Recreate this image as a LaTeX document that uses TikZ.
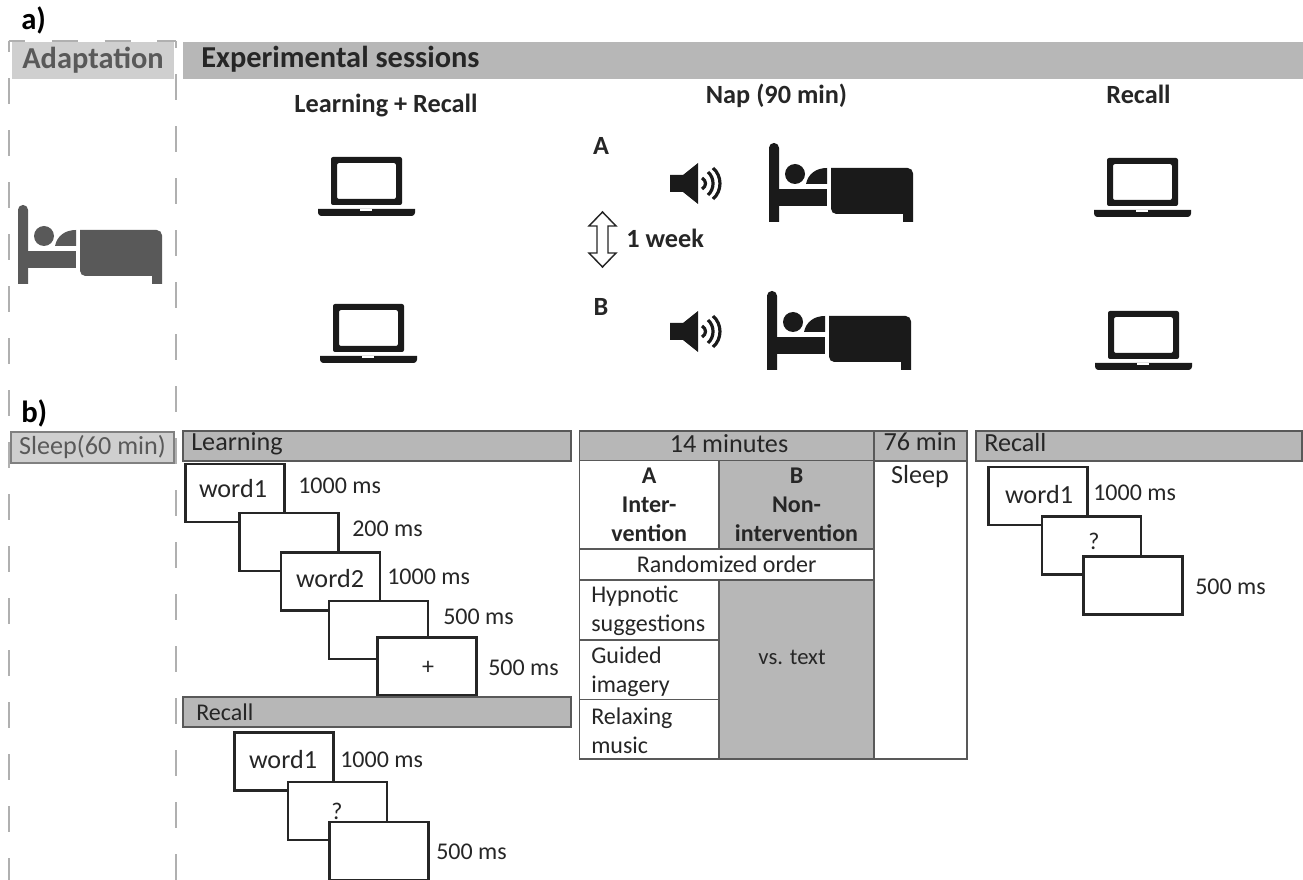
\documentclass[tikz,border=0pt]{standalone}
\usepackage{fontspec}
\setmainfont[Ligatures={Common,Rare}]{Carlito}
\usepackage{tikz}
\usetikzlibrary{arrows.meta,shapes,positioning,calc,fit}
\definecolor{barfill}{HTML}{B7B7B7}
\definecolor{barline}{HTML}{595959}
\definecolor{adaptfill}{HTML}{CFCFCF}
\definecolor{adaptink}{HTML}{595959}
\definecolor{dashgray}{HTML}{B0B0B0}
\definecolor{iconink}{HTML}{1A1A1A}
\definecolor{textink}{HTML}{262626}
\newcommand{\fsbody}{\fontsize{18}{21.75}\selectfont}
\newcommand{\fsbar}{\fontsize{19.6}{21.75}\selectfont}
\newcommand{\fshead}{\fontsize{22.8}{26}\selectfont\bfseries}
\newcommand{\fssub}{\fontsize{19.7}{24}\selectfont\bfseries}

\begin{document}
\begin{tikzpicture}[
        x=0.75pt, y=-0.75pt,
        txt/.style={inner sep=0pt, text=textink, font=\fsbody},
        txtl/.style={txt, anchor=west, align=left},
        bartxt/.style={txt, font=\fsbar},
        subhead/.style={inner sep=0pt, text=textink, font=\fssub},
        panel/.style={inner sep=0pt, text=black, font=\fontsize{23}{26}\selectfont\bfseries},
        bar/.style={rectangle, draw=barline, line width=0.9pt, fill=barfill, minimum height=22.5pt, inner sep=0pt},
        cell/.style={rectangle, draw=barline, line width=0.9pt, fill=white, inner sep=0pt, align=center, text=textink, font=\fsbody},
        leftcell/.style={cell, minimum width=104.6pt, minimum height=44.6pt},
        screen/.style={rectangle, draw=textink, line width=1.6pt, fill=white, minimum width=74.25pt, minimum height=43.5pt, inner sep=0pt},
        pics/bed/.style={code={
            \fill[#1] (0,79) [rounded corners=3.6pt] -- (0,0) -- (10,0) [sharp corners] -- (10,79) -- cycle;
            \fill[#1] (10,46) rectangle (58,63);
            \fill[#1] (26,31) circle (7.5pt);
            \fill[#1] (37,41) .. controls (39,31) and (47,25) .. (58,25) -- (58,41) -- cycle;
            \fill[#1] (62,25) [rounded corners=4pt] -- (144,25) [sharp corners] -- (144,79) -- (134,79) -- (134,71) [rounded corners=4pt] -- (62,71) [sharp corners] -- cycle;
        }},
        pics/laptop/.style={code={
            \fill[iconink, even odd rule, rounded corners=1.5pt] (13,0) rectangle (84,48) (19,6) rectangle (78,42);
            \fill[iconink] (0,52) -- (97,52) [rounded corners=2.5pt] -- (97,59) -- (0,59) [sharp corners] -- cycle;
            \fill[white] (42,52) rectangle (54,54);
        }},
        pics/speaker/.style={code={
            \fill[iconink] (0,12) -- (13,12) -- (28,0) -- (28,41) -- (13,29) -- (0,29) -- cycle;
            \draw[iconink, line width=2.4pt] (32,15) .. controls (36.7,18) and (36.7,23) .. (32,26);
            \draw[iconink, line width=2.4pt] (38,9) .. controls (44.7,15) and (44.7,26) .. (38,32);
            \draw[iconink, line width=2.4pt] (43,5) .. controls (52.3,13) and (52.3,28) .. (43,36);
        }}
    ]
    \useasboundingbox (0,0) rectangle (1303,880);

    % --- Part a ---
    \node (labela) [panel, anchor=west] at (21,20) {a)};

    \coordinate (adaptTL) at (8.5,41);
    \coordinate (adaptTR) at (175.5,41);
    \coordinate (adaptBL) at (8.5,880);
    \coordinate (adaptBR) at (175.5,880);

    \node (adapt) [rectangle, fill=adaptfill, minimum width=121.5pt, minimum height=27.75pt, inner sep=0pt, text=adaptink, font=\fshead] at (93,60.5) {Adaptation};
    \node (expbar) [rectangle, fill=barfill, minimum width=840pt, minimum height=27.75pt, inner sep=0pt] at (743,60.5) {};
    \node (exptitle) [anchor=west, inner sep=0pt, text=textink, font=\fshead] at (201,59.5) {Experimental sessions};

    % dashed frame round the adaptation column
    \draw[dashgray, line width=1.5pt, dash pattern=on 19.5pt off 20pt, dash phase=7pt] (adaptTL) -- (adaptTR);
    \draw[dashgray, line width=1.5pt, dash pattern=on 19.5pt off 19.5pt, dash phase=11pt] (adaptTL) -- (adaptBL);
    \draw[dashgray, line width=1.5pt, dash pattern=on 19.5pt off 19.5pt, dash phase=14pt] (adaptTR) -- (adaptBR);

    \pic (bedadapt) at (18,205) {bed=adaptink};

    \node (learnhead) [subhead] at (386,106) {Learning + Recall};
    \node (naphead) [subhead] at (776.5,96) {Nap (90 min)};
    \node (recallhead) [subhead] at (1138.5,94) {Recall};

    \pic (lapA) at (318,157) {laptop};
    \pic (lapB) at (320,304) {laptop};
    \pic (lapC) at (1094,158) {laptop};
    \pic (lapD) at (1095,311) {laptop};

    \node (sessA) [subhead] at (601,146) {A};
    \node (sessB) [subhead] at (601,307) {B};
    \node (week) [subhead, anchor=west] at (626,238) {1 week};
    \draw[textink, line width=1.1pt, fill=white] (602.5,212) -- (616,226) -- (608,226) -- (608,253) -- (616,253) -- (602.5,267) -- (589,253) -- (597,253) -- (597,226) -- (589,226) -- cycle;

    \pic (spkA) at (670,163) {speaker};
    \pic (spkB) at (670,311) {speaker};
    \pic (bedA) at (769,143) {bed=iconink};
    \pic (bedB) at (767,291) {bed=iconink};

    % --- Part b ---
    \node (labelb) [panel, anchor=west] at (21,413) {b)};
    \node (sleepbox) [rectangle, draw=gray, line width=1.5pt, fill=adaptfill, minimum width=122pt, minimum height=22.5pt, inner sep=0pt, text=adaptink, font=\fsbar] at (92.5,447.5) {Sleep(60 min)};

    % learning sequence
    \node (learnbar) [bar, minimum width=291pt] at (377,446) {};
    \node (learntxt) [bartxt, anchor=west] at (191,444) {Learning};
    \node (scrA) [screen] at (235,493) {};
    \node (scrB) [screen] at (289,542) {};
    \node (scrC) [screen] at (330.5,581.5) {};
    \node (scrD) [screen] at (378.5,630) {};
    \node (scrE) [screen] at (427,666.5) {};
    \node (wordA) [bartxt] at (233,489) {word1};
    \node (wordB) [bartxt] at (330,579) {word2};
    \node (plus) [txt] at (428,668) {+};
    \node (tA) [txtl] at (298,486) {1000 ms};
    \node (tB) [txtl] at (352,529) {200 ms};
    \node (tC) [txtl] at (387,577) {1000 ms};
    \node (tD) [txtl] at (443,617) {500 ms};
    \node (tE) [txtl] at (488,668) {500 ms};

    % recall sequence
    \node (recallbar) [bar, minimum width=291pt] at (377,712) {};
    \node (recalltxt) [txtl] at (196,712) {Recall};
    \node (scrF) [screen] at (284,761.5) {};
    \node (scrG) [screen] at (337.5,811) {};
    \node (scrH) [screen] at (379,851) {};
    \node (wordC) [bartxt] at (283,760) {word1};
    \node (quest) [txt] at (337,811) {?};
    \node (tF) [txtl] at (340,760) {1000 ms};
    \node (tG) [txtl] at (436,852) {500 ms};

    % nap table
    \node (hdrmin) [bar, minimum width=221pt] at (726.75,446) {};
    \node (hdrmintxt) [bartxt] at (729,444) {14 minutes};
    \node (hdrsleep) [bar, minimum width=69.75pt] at (920.5,446) {};
    \node (hdrsleeptxt) [bartxt] at (920,442) {76 min};
    \node (cellA) [cell, minimum width=104.6pt, minimum height=66.4pt, font=\fsbody\bfseries] at (649.25,504.5) {A\\Inter-\\vention};
    \node (cellB) [cell, fill=barfill, minimum width=116.25pt, minimum height=66.4pt, font=\fsbody\bfseries] at (796.5,504.5) {B\\Non-\\intervention};
    \node (cellrand) [cell, minimum width=221pt, minimum height=22.9pt] at (726.75,564.75) {Randomized order};
    \node (cellhyp) [leftcell] at (649.25,610) {};
    \node (cellimg) [leftcell] at (649.25,669.75) {};
    \node (cellmus) [leftcell] at (649.25,729.25) {};
    \node (hyptxt) [txtl] at (591,611) {Hypnotic\\sugges\kern0pt tions};
    \node (imgtxt) [txtl] at (591,672) {Guided\\imagery};
    \node (mustxt) [txtl] at (591,731) {Relaxing\\music};
    \node (cellvs) [cell, fill=barfill, minimum width=116.25pt, minimum height=134.25pt] at (796.5,669.5) {};
    \node (vstxt) [txt, font=\fontsize{17}{21}\selectfont] at (792,657) {vs. text};
    \node (cellsleep) [cell, minimum width=69.75pt, minimum height=223.5pt] at (920.5,610) {};
    \node (sleeptxt) [bartxt] at (920,477) {Sleep};

    % recall after the nap
    \node (recallbarB) [bar, minimum width=244.5pt] at (1139,446) {};
    \node (recalltxtB) [bartxt, anchor=west] at (984,443) {Recall};
    \node (scrI) [screen] at (1038,496) {};
    \node (scrJ) [screen] at (1091.5,545.5) {};
    \node (scrK) [screen] at (1133,585.5) {};
    \node (wordD) [bartxt] at (1039,495) {word1};
    \node (questB) [txt] at (1094,541) {?};
    \node (tH) [txtl] at (1093,493) {1000 ms};
    \node (tI) [txtl] at (1195,587) {500 ms};

\end{tikzpicture}
\end{document}
